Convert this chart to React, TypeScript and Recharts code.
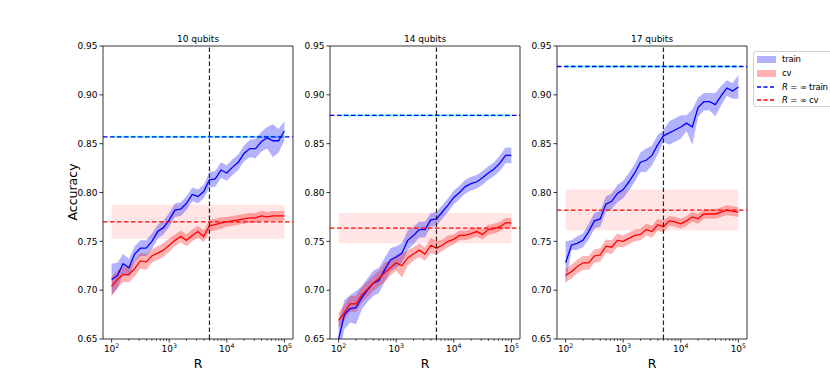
import React from "react";
import { ComposedChart, Area, Line, XAxis, YAxis, ReferenceLine, ReferenceArea } from "recharts";

// number of shots R (log-spaced)
const rValues = [
  100, 126, 158, 200, 251, 316, 398, 501, 631, 794, 1000, 1259, 1585, 1995, 2512, 3162,
  3981, 5012, 6310, 7943, 10000, 12589, 15849, 19953, 25119, 31623, 39811, 50119, 63096, 79433, 100000,
];

const titles = ["10 qubits", "14 qubits", "17 qubits"];

const train10 = [0.711, 0.715, 0.727, 0.723, 0.737, 0.743, 0.743, 0.750, 0.760, 0.764, 0.772, 0.782, 0.783, 0.789, 0.798, 0.796, 0.801, 0.813, 0.814, 0.823, 0.820, 0.826, 0.831, 0.840, 0.845, 0.845, 0.852, 0.856, 0.853, 0.853, 0.863];
const train10Std = [0.016, 0.013, 0.010, 0.009, 0.008, 0.008, 0.008, 0.008, 0.007, 0.007, 0.007, 0.007, 0.007, 0.007, 0.007, 0.007, 0.007, 0.008, 0.008, 0.008, 0.008, 0.008, 0.008, 0.008, 0.009, 0.010, 0.010, 0.011, 0.017, 0.012, 0.010];
const cv10 = [0.704, 0.711, 0.716, 0.716, 0.722, 0.730, 0.729, 0.735, 0.738, 0.741, 0.746, 0.751, 0.755, 0.751, 0.756, 0.760, 0.755, 0.766, 0.767, 0.769, 0.770, 0.771, 0.772, 0.773, 0.774, 0.774, 0.776, 0.775, 0.776, 0.776, 0.776];
const cv10Std = [0.010, 0.009, 0.008, 0.008, 0.008, 0.008, 0.008, 0.007, 0.007, 0.007, 0.007, 0.006, 0.006, 0.006, 0.006, 0.006, 0.006, 0.006, 0.006, 0.006, 0.005, 0.005, 0.005, 0.005, 0.005, 0.005, 0.005, 0.005, 0.005, 0.005, 0.005];

const train14 = [0.650, 0.675, 0.681, 0.682, 0.692, 0.700, 0.707, 0.710, 0.721, 0.731, 0.734, 0.738, 0.751, 0.756, 0.762, 0.762, 0.772, 0.773, 0.780, 0.787, 0.795, 0.800, 0.806, 0.809, 0.811, 0.815, 0.820, 0.824, 0.830, 0.838, 0.838];
const train14Std = [0.018, 0.015, 0.014, 0.017, 0.012, 0.012, 0.013, 0.013, 0.012, 0.012, 0.011, 0.010, 0.010, 0.009, 0.008, 0.008, 0.007, 0.007, 0.007, 0.007, 0.007, 0.007, 0.007, 0.007, 0.007, 0.007, 0.007, 0.007, 0.008, 0.008, 0.008];
const cv14 = [0.669, 0.677, 0.686, 0.686, 0.695, 0.701, 0.707, 0.712, 0.718, 0.723, 0.728, 0.725, 0.733, 0.737, 0.741, 0.737, 0.746, 0.743, 0.746, 0.750, 0.752, 0.756, 0.756, 0.758, 0.760, 0.757, 0.762, 0.763, 0.765, 0.769, 0.769];
const cv14Std = [0.008, 0.008, 0.008, 0.008, 0.008, 0.008, 0.008, 0.008, 0.010, 0.008, 0.008, 0.012, 0.008, 0.007, 0.007, 0.007, 0.008, 0.007, 0.006, 0.006, 0.005, 0.005, 0.005, 0.005, 0.005, 0.005, 0.005, 0.005, 0.005, 0.005, 0.005];

const train17 = [0.728, 0.746, 0.748, 0.751, 0.760, 0.771, 0.773, 0.788, 0.791, 0.799, 0.803, 0.811, 0.820, 0.831, 0.833, 0.838, 0.849, 0.858, 0.861, 0.864, 0.867, 0.871, 0.867, 0.887, 0.893, 0.893, 0.890, 0.899, 0.907, 0.904, 0.908];
const train17Std = [0.022, 0.005, 0.007, 0.007, 0.008, 0.008, 0.008, 0.008, 0.008, 0.009, 0.009, 0.009, 0.009, 0.010, 0.012, 0.010, 0.010, 0.006, 0.012, 0.012, 0.012, 0.008, 0.018, 0.010, 0.009, 0.009, 0.012, 0.010, 0.008, 0.008, 0.012];
const cv17 = [0.715, 0.719, 0.724, 0.728, 0.728, 0.735, 0.736, 0.745, 0.744, 0.751, 0.750, 0.753, 0.756, 0.757, 0.762, 0.760, 0.767, 0.765, 0.771, 0.770, 0.768, 0.771, 0.775, 0.773, 0.778, 0.778, 0.778, 0.780, 0.782, 0.781, 0.780];
const cv17Std = [0.007, 0.007, 0.007, 0.007, 0.007, 0.007, 0.007, 0.007, 0.007, 0.007, 0.006, 0.006, 0.006, 0.006, 0.006, 0.006, 0.006, 0.006, 0.005, 0.005, 0.005, 0.005, 0.005, 0.005, 0.005, 0.005, 0.005, 0.005, 0.005, 0.005, 0.005];

// R = infinity reference values (mean and spread), one per panel
const infTrain = [0.857, 0.879, 0.929];
const infTrainStd = [0.0012, 0.0012, 0.0012];
const infCv = [0.770, 0.7635, 0.782];
const infCvStd = [0.0175, 0.0155, 0.021];

const cutoffR = 5000;
const yTicks = [0.65, 0.7, 0.75, 0.8, 0.85, 0.9, 0.95];
const xMajor = [100, 1000, 10000, 100000];
const xMinor = [200, 300, 400, 500, 600, 700, 800, 900, 2000, 3000, 4000, 5000, 6000, 7000, 8000, 9000, 20000, 30000, 40000, 50000, 60000, 70000, 80000, 90000];
const xDomain = [70.8, 141254];

const panels = [
  { train: train10, trainStd: train10Std, cv: cv10, cvStd: cv10Std },
  { train: train14, trainStd: train14Std, cv: cv14, cvStd: cv14Std },
  { train: train17, trainStd: train17Std, cv: cv17, cvStd: cv17Std },
];

const FONT = "DejaVu Sans, sans-serif";
const BLUE = "#0000ff";
const RED = "#ff0000";

const XTick = (props: any) => {
  const { x, y, payload } = props;
  const v = payload.value;
  if (!xMajor.includes(v)) {
    return <line x1={x} x2={x} y1={y} y2={y + 2} stroke="#000" strokeWidth={0.6} />;
  }
  const exp = Math.round(Math.log10(v));
  return (
    <g>
      <line x1={x} x2={x} y1={y} y2={y + 3.5} stroke="#000" strokeWidth={0.8} />
      <text x={x} y={y + 13} textAnchor="middle" fontSize={9} fontFamily={FONT} fill="#000">
        10<tspan dy={-4} fontSize={6.3}>{exp}</tspan>
      </text>
    </g>
  );
};

const YTick = (props: any) => {
  const { x, y, payload } = props;
  return (
    <g>
      <line x1={x} x2={x - 3.5} y1={y} y2={y} stroke="#000" strokeWidth={0.8} />
      <text x={x - 5.5} y={y + 3.2} textAnchor="end" fontSize={9} fontFamily={FONT} fill="#000">
        {payload.value.toFixed(2)}
      </text>
    </g>
  );
};

const chartLefts = [58, 285, 512];
const CHART_TOP = 36;
const PLOT_W = 190;
const PLOT_H = 293;

function Panel({ idx }: { idx: number }) {
  const p = panels[idx];
  const data = rValues.map((r, i) => ({
    r,
    train: p.train[i],
    cv: p.cv[i],
    trainBand: [p.train[i] - p.trainStd[i], p.train[i] + p.trainStd[i]],
    cvBand: [p.cv[i] - p.cvStd[i], p.cv[i] + p.cvStd[i]],
  }));
  return (
    <div style={{ position: "absolute", left: chartLefts[idx], top: CHART_TOP }}>
      <ComposedChart
        width={45 + PLOT_W + 5}
        height={10 + PLOT_H + 30}
        data={data}
        margin={{ top: 10, right: 5, left: 0, bottom: 0 }}
      >
        <XAxis
          dataKey="r"
          type="number"
          scale="log"
          domain={xDomain}
          allowDataOverflow
          ticks={[...xMajor, ...xMinor]}
          interval={0}
          tick={<XTick />}
          tickLine={false}
          tickSize={0}
          tickMargin={0}
          axisLine={false}
          height={30}
        />
        <YAxis
          type="number"
          domain={[0.65, 0.95]}
          allowDataOverflow
          ticks={yTicks}
          interval={0}
          tick={<YTick />}
          tickLine={false}
          tickSize={0}
          tickMargin={0}
          axisLine={false}
          width={45}
        />
        <ReferenceArea
          x1={100}
          x2={100000}
          y1={infCv[idx] - infCvStd[idx]}
          y2={infCv[idx] + infCvStd[idx]}
          fill={RED}
          fillOpacity={0.1}
          stroke="none"
        />
        <ReferenceArea
          x1={100}
          x2={100000}
          y1={infTrain[idx] - infTrainStd[idx]}
          y2={infTrain[idx] + infTrainStd[idx]}
          fill="#00ffff"
          fillOpacity={0.5}
          stroke="none"
        />
        <Area dataKey="trainBand" stroke="none" fill={BLUE} fillOpacity={0.3} isAnimationActive={false} />
        <Line dataKey="train" stroke={BLUE} strokeWidth={1.3} dot={false} isAnimationActive={false} />
        <Area dataKey="cvBand" stroke="none" fill={RED} fillOpacity={0.3} isAnimationActive={false} />
        <Line dataKey="cv" stroke={RED} strokeWidth={1.3} dot={false} isAnimationActive={false} />
        <ReferenceLine y={infTrain[idx]} stroke={BLUE} strokeWidth={1.3} strokeDasharray="4.5 2.5" />
        <ReferenceLine y={infCv[idx]} stroke={RED} strokeWidth={1.3} strokeDasharray="4.5 2.5" />
        <ReferenceLine x={cutoffR} stroke="#222" strokeWidth={1.2} strokeDasharray="4.5 2.5" />
        <ReferenceArea
          x1={xDomain[0]}
          x2={xDomain[1]}
          y1={0.65}
          y2={0.95}
          fill="none"
          stroke="#000"
          strokeWidth={0.8}
          ifOverflow="visible"
        />
      </ComposedChart>
      <div
        style={{
          position: "absolute",
          left: 45,
          width: PLOT_W,
          top: -3,
          textAlign: "center",
          fontFamily: FONT,
          fontSize: 9,
          lineHeight: "12px",
        }}
      >
        {titles[idx]}
      </div>
      <div
        style={{
          position: "absolute",
          left: 45,
          width: PLOT_W,
          top: 10 + PLOT_H + 17,
          textAlign: "center",
          fontFamily: FONT,
          fontSize: 12.5,
          lineHeight: "16px",
        }}
      >
        R
      </div>
    </div>
  );
}

function Legend() {
  const rowStyle = (top: number): React.CSSProperties => ({
    position: "absolute",
    left: 3,
    top,
    height: 12,
    display: "flex",
    alignItems: "center",
    whiteSpace: "nowrap",
  });
  const label: React.CSSProperties = { marginLeft: 6, fontFamily: FONT, fontSize: 8.5, letterSpacing: -0.2 };
  const patch = (c: string) => (
    <span style={{ display: "inline-block", width: 19, height: 7, background: c }} />
  );
  const dash = (c: string) => (
    <svg width={19} height={4}>
      <line x1={0} x2={19} y1={2} y2={2} stroke={c} strokeWidth={1.3} strokeDasharray="4 2.5" />
    </svg>
  );
  return (
    <div
      style={{
        position: "absolute",
        left: 753,
        top: 51,
        width: 95,
        height: 54,
        border: "1px solid #d0d0d0",
        borderRadius: 3,
        background: "#fff",
      }}
    >
      <div style={rowStyle(1)}>
        {patch("rgba(0,0,255,0.3)")}
        <span style={label}>train</span>
      </div>
      <div style={rowStyle(15)}>
        {patch("rgba(255,0,0,0.3)")}
        <span style={label}>cv</span>
      </div>
      <div style={rowStyle(29)}>
        {dash(BLUE)}
        <span style={label}>
          <i>R</i> = ∞ train
        </span>
      </div>
      <div style={rowStyle(42)}>
        {dash(RED)}
        <span style={label}>
          <i>R</i> = ∞ cv
        </span>
      </div>
    </div>
  );
}

export default function App() {
  return (
    <div
      style={{
        position: "absolute",
        left: 0,
        top: 0,
        width: 830,
        height: 388,
        overflow: "hidden",
        background: "#fff",
      }}
    >
      {[0, 1, 2].map((i) => (
        <Panel key={i} idx={i} />
      ))}
      <div
        style={{
          position: "absolute",
          left: 72,
          top: 192,
          transform: "translate(-50%, -50%) rotate(-90deg)",
          fontFamily: FONT,
          fontSize: 12.5,
          whiteSpace: "nowrap",
        }}
      >
        Accuracy
      </div>
      <Legend />
    </div>
  );
}
